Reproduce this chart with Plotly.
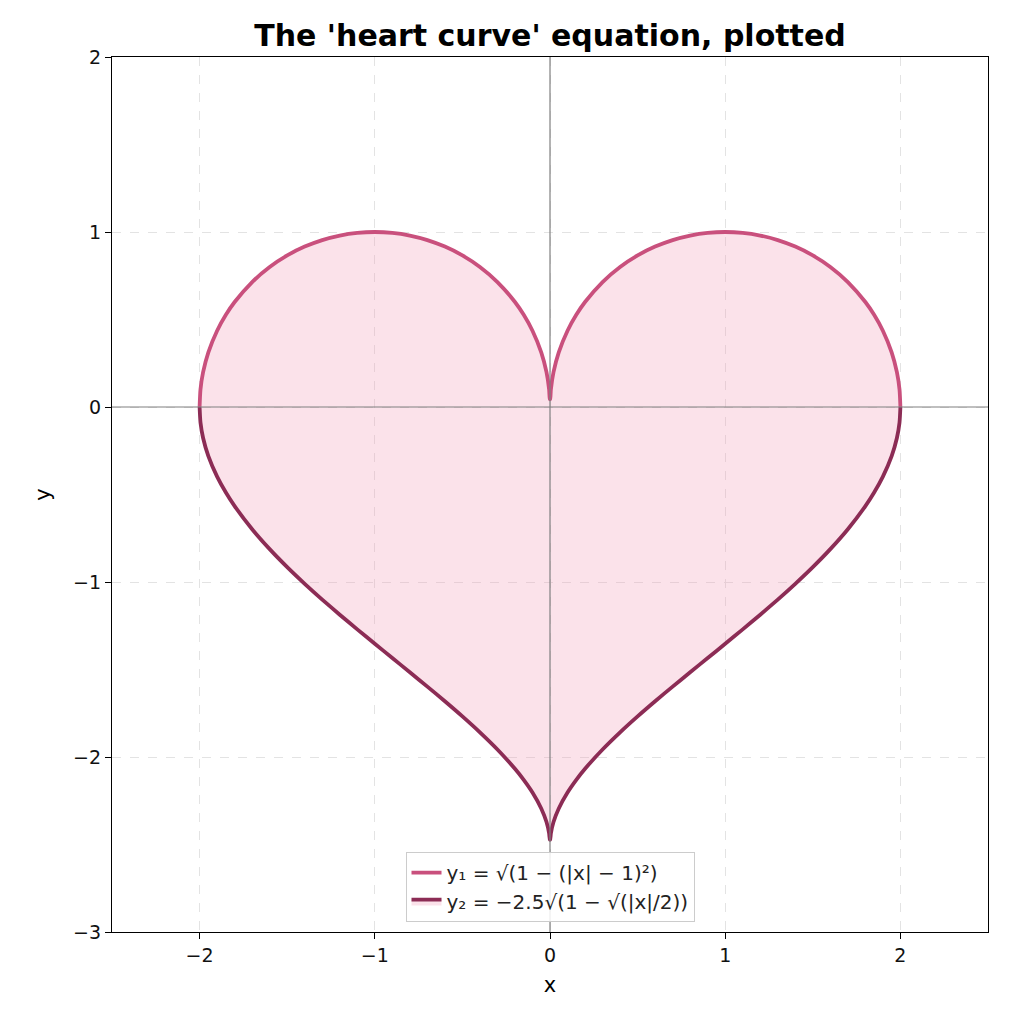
import plotly.graph_objects as go

# right half of the heart, |x| values and curve heights
x_half = [0.001, 0.005, 0.02, 0.05, 0.1, 0.15, 0.2, 0.3, 0.4, 0.5, 0.6, 0.7,
          0.8, 0.9, 1.0, 1.1, 1.2, 1.3, 1.4, 1.5, 1.6, 1.7, 1.8, 1.85, 1.9,
          1.95, 1.98, 1.995, 2.0]
y1_half = [0.0447, 0.0999, 0.1990, 0.3122, 0.4359, 0.5268, 0.6000, 0.7141,
           0.8000, 0.8660, 0.9165, 0.9539, 0.9798, 0.9950, 1.0000, 0.9950,
           0.9798, 0.9539, 0.9165, 0.8660, 0.8000, 0.7141, 0.6000, 0.5268,
           0.4359, 0.3122, 0.1990, 0.0999, 0.0]
y2_half = [-2.4719, -2.4367, -2.3717, -2.2939, -2.2028, -2.1304, -2.0673,
           -1.9569, -1.8588, -1.7678, -1.6813, -1.5977, -1.5156, -1.4344,
           -1.3530, -1.2708, -1.1869, -1.1005, -1.0104, -0.9151, -0.8123,
           -0.6984, -0.5664, -0.4888, -0.3978, -0.2804, -0.1770, -0.0884, 0.0]

x_ticks = [-2, -1, 0, 1, 2]
y_ticks = [-3, -2, -1, 0, 1, 2]

# the curve is symmetric about x = 0
x_vals = [-v for v in reversed(x_half)] + x_half
y1_vals = list(reversed(y1_half)) + y1_half
y2_vals = list(reversed(y2_half)) + y2_half

top_color = '#c9507d'
bottom_color = '#8c2c55'
font = 'DejaVu Sans, Verdana, sans-serif'

fig = go.Figure()

fig.add_trace(go.Scatter(
    x=x_vals, y=y1_vals,
    mode='lines',
    line=dict(color=top_color, width=3.8, shape='spline', smoothing=0.6),
    name='y\u2081 = \u221a(1 \u2212 (|x| \u2212 1)\u00b2)'
))
fig.add_trace(go.Scatter(
    x=x_vals, y=y2_vals,
    mode='lines',
    fill='tonexty',
    fillcolor='rgba(240, 150, 180, 0.28)',
    line=dict(color=bottom_color, width=3.8, shape='spline', smoothing=0.6),
    name='y\u2082 = \u22122.5\u221a(1 \u2212 \u221a(|x|/2))'
))

# reference lines through the origin, drawn above the curves
fig.add_shape(type='line', xref='x', yref='paper', x0=0, x1=0, y0=0, y1=1,
              line=dict(color='#808080', width=1.2), layer='above')
fig.add_shape(type='line', xref='paper', yref='y', x0=0, x1=1, y0=0, y1=0,
              line=dict(color='#808080', width=1.2), layer='above')

axis_style = dict(
    showgrid=True,
    gridcolor='#e3e3e3',
    griddash='dash',
    gridwidth=1,
    zeroline=False,
    showline=True,
    linecolor='black',
    linewidth=1.2,
    mirror=True,
    ticks='outside',
    ticklen=6,
    tickcolor='black',
    tickfont=dict(size=19, color='#111111', family=font),
)

fig.update_layout(
    width=1024,
    height=1024,
    margin=dict(l=104, r=44, t=49, b=100),
    paper_bgcolor='white',
    plot_bgcolor='white',
    font=dict(family=font, color='black'),
    title=dict(
        text="<b>The 'heart curve' equation, plotted</b>",
        xref='paper', x=0.5, xanchor='center',
        yref='container', y=0.9736, yanchor='middle',
        font=dict(size=30, family=font, color='black')
    ),
    xaxis=dict(
        range=[-2.5, 2.5],
        tickvals=x_ticks,
        ticktext=['\u22122', '\u22121', '0', '1', '2'],
        title=dict(text='x', font=dict(size=21, family=font), standoff=12),
        **axis_style
    ),
    yaxis=dict(
        range=[-3, 2],
        tickvals=y_ticks,
        ticktext=['\u22123', '\u22122', '\u22121', '0', '1', '2'],
        title=dict(text='y', font=dict(size=21, family=font), standoff=16),
        **axis_style
    ),
    legend=dict(
        x=0.5, xanchor='center',
        y=0.0114, yanchor='bottom',
        traceorder='normal',
        bgcolor='rgba(255,255,255,0.85)',
        bordercolor='#cccccc',
        borderwidth=1,
        font=dict(size=20, family=font, color='#222222'),
    ),
    showlegend=True
)

fig.write_html("out.html")
